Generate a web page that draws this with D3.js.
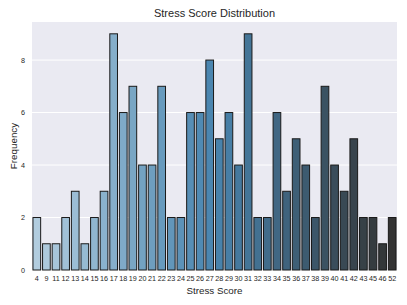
<!DOCTYPE html>
<html>
<head>
<meta charset="utf-8">
<script src="https://cdn.jsdelivr.net/npm/d3@7"></script>
<style>
  body { margin: 0; background: #fff; }
  text { font-family: "Liberation Sans", Arial, sans-serif; fill: #262626; }
</style>
</head>
<body>
<div id="chart"></div>
<script>
const scores = ["4","9","11","12","13","14","15","16","17","18","19","20","21","22","23","24","25","26","27","28","29","30","31","32","33","34","35","36","37","38","39","40","41","42","43","45","46","52"];
const counts = [2,1,1,2,3,1,2,3,9,6,7,4,4,7,2,2,6,6,8,5,6,4,9,2,2,6,3,5,4,2,7,4,3,5,2,2,1,2];
const yTicks = [0,2,4,6,8];

const width = 407, height = 305;
const margin = ({top: 22, right: 10, bottom: 35, left: 32});

const svg = d3.select("#chart").append("svg")
  .attr("width", width).attr("height", height);

const x = d3.scaleBand().domain(scores)
  .range([margin.left, width - margin.right]).paddingInner(0.2).paddingOuter(0.1);
const y = d3.scaleLinear().domain([0, d3.max(counts) * 1.05])
  .range([height - margin.bottom, margin.top]);

// seaborn "Blues_d": Blues(1/3), Blues(2/3), #333333 blended, then desaturated 0.75
const blend = d3.scaleLinear().domain([0, 0.5, 1])
  .range([d3.interpolateBlues(1/3), d3.interpolateBlues(2/3), "#333333"])
  .interpolate(d3.interpolateRgb);
const color = i => {
  let c = d3.hsl(blend(i / (scores.length - 1)));
  c.s *= 0.75;
  return c.formatHex();
};

// background
svg.append("rect")
  .attr("x", margin.left).attr("y", margin.top)
  .attr("width", width - margin.left - margin.right)
  .attr("height", height - margin.top - margin.bottom)
  .attr("fill", "#eaeaf2");

// grid
svg.append("g").selectAll("line").data(yTicks).join("line")
  .attr("x1", margin.left).attr("x2", width - margin.right)
  .attr("y1", d => y(d)).attr("y2", d => y(d))
  .attr("stroke", "#fff").attr("stroke-width", 1);

// bars
svg.append("g").selectAll("rect").data(counts).join("rect")
  .attr("x", (d, i) => x(scores[i]))
  .attr("y", d => y(d))
  .attr("width", x.bandwidth())
  .attr("height", d => y(0) - y(d))
  .attr("fill", (d, i) => color(i))
  .attr("stroke", "#1a1a1a").attr("stroke-width", 1);

// axes
const xAxis = svg.append("g")
  .attr("transform", `translate(0,${height - margin.bottom})`)
  .call(d3.axisBottom(x).tickSize(0).tickPadding(6));
xAxis.select(".domain").remove();
xAxis.selectAll("text").style("font-size", "7.2px").attr("fill", "#262626");

const yAxis = svg.append("g")
  .attr("transform", `translate(${margin.left},0)`)
  .call(d3.axisLeft(y).tickValues(yTicks).tickSize(0).tickPadding(7));
yAxis.select(".domain").remove();
yAxis.selectAll("text").style("font-size", "7.2px").attr("fill", "#262626");

// labels
svg.append("text")
  .attr("x", (margin.left + width - margin.right) / 2).attr("y", 17)
  .attr("text-anchor", "middle").style("font-size", "11px")
  .text("Stress Score Distribution");

svg.append("text")
  .attr("x", (margin.left + width - margin.right) / 2).attr("y", 294)
  .attr("text-anchor", "middle").style("font-size", "9.8px")
  .text("Stress Score");

svg.append("text")
  .attr("transform", `translate(17,${(margin.top + height - margin.bottom) / 2}) rotate(-90)`)
  .attr("text-anchor", "middle").style("font-size", "9.8px")
  .text("Frequency");
</script>
</body>
</html>
